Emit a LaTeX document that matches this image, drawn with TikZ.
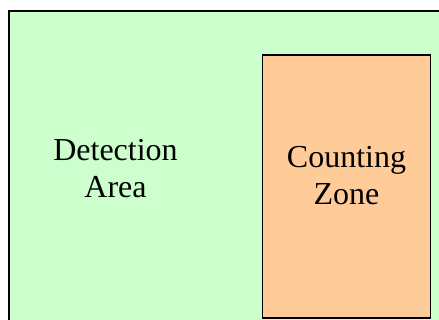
\documentclass[tikz,border=0pt]{standalone}
\usepackage{fontspec}
\setmainfont{Liberation Serif}
\definecolor{areagreen}{HTML}{CCFFCC}
\definecolor{zoneorange}{HTML}{FFCC99}
\begin{document}
\begin{tikzpicture}[x=1pt,y=1pt,
  region/.style={draw=black,line width=1.6pt},
  caption/.style={anchor=base,inner sep=0pt,font=\rmfamily\fontsize{32}{37}\selectfont}]
\useasboundingbox (0,0) rectangle (439,320);
\fill[white] (0,0) rectangle (439,320);
\clip (0,0) rectangle (439,320);
% detection area, running past the right and bottom edges
\draw[region,fill=areagreen] (9,309) rectangle (460,-20);
% counting zone
\draw[region,fill=zoneorange] (262.5,265) rectangle (430.5,2);
% captions
\node[caption] (det1) at (115.5,159) {Detection};
\node[caption] (det2) at (115.5,122) {Area};
\node[caption] (cnt1) at (346.5,152) {Counting};
\node[caption] (cnt2) at (346.5,115) {Zone};
\end{tikzpicture}
\end{document}
